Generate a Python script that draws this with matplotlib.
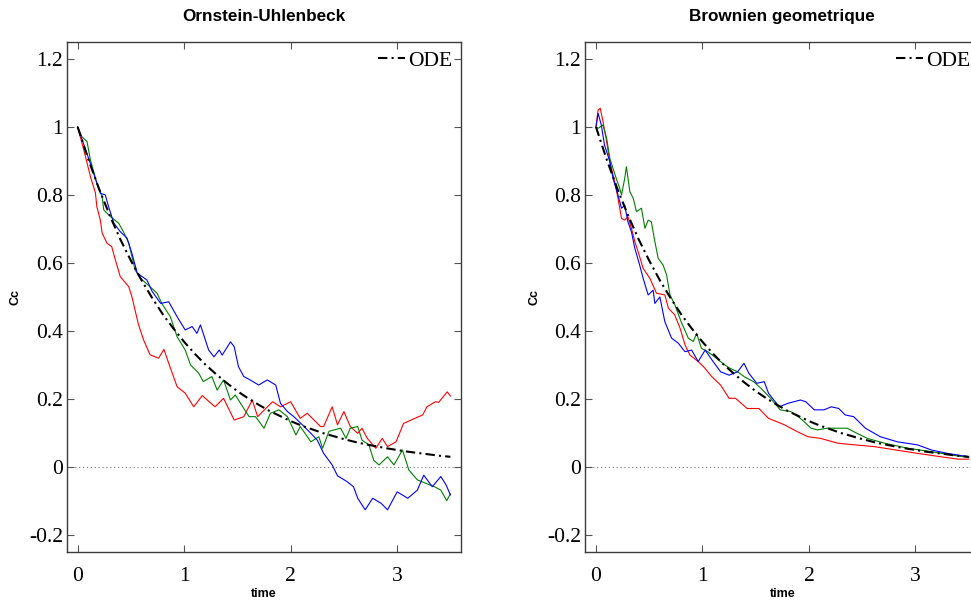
import matplotlib
matplotlib.use('Agg')
import matplotlib.pyplot as plt

# valeurs (temps, Cc)
# Ornstein-Uhlenbeck
ou_red_t = [0, 0.06, 0.12, 0.167, 0.18, 0.213, 0.23, 0.276, 0.32, 0.354, 0.40, 0.48, 0.51, 0.54, 0.57,
            0.62, 0.68, 0.76, 0.81, 0.855, 0.934, 1.01, 1.09, 1.17, 1.29, 1.37, 1.47, 1.56, 1.64, 1.69,
            1.83, 1.905, 2.0, 2.09, 2.156, 2.28, 2.31, 2.39, 2.44, 2.50, 2.56, 2.63, 2.67, 2.72, 2.80,
            2.86, 2.91, 2.99, 3.06, 3.13, 3.24, 3.28, 3.36, 3.39, 3.47, 3.5]
ou_red = [1, 0.93, 0.854, 0.806, 0.766, 0.726, 0.688, 0.658, 0.648, 0.609, 0.56, 0.53, 0.50, 0.46, 0.42,
          0.373, 0.33, 0.32, 0.346, 0.305, 0.236, 0.217, 0.177, 0.21, 0.177, 0.202, 0.138, 0.148, 0.197, 0.148,
          0.192, 0.177, 0.192, 0.143, 0.158, 0.119, 0.119, 0.177, 0.124, 0.163, 0.119, 0.099, 0.114, 0.084, 0.055,
          0.084, 0.06, 0.074, 0.128, 0.138, 0.153, 0.177, 0.192, 0.19, 0.221, 0.209]

ou_blue_t = [0, 0.073, 0.15, 0.213, 0.26, 0.29, 0.34, 0.40, 0.464, 0.51, 0.56, 0.65, 0.70, 0.78, 0.855,
             0.934, 1.01, 1.075, 1.12, 1.153, 1.23, 1.28, 1.33, 1.357, 1.435, 1.47, 1.51, 1.56, 1.62, 1.70,
             1.78, 1.86, 1.905, 1.97, 2.03, 2.11, 2.19, 2.25, 2.31, 2.39, 2.44, 2.53, 2.59, 2.63, 2.70,
             2.77, 2.85, 2.91, 3.0, 3.10, 3.19, 3.25, 3.33, 3.41, 3.46, 3.5]
ou_blue = [1, 0.935, 0.864, 0.805, 0.80, 0.766, 0.717, 0.692, 0.673, 0.628, 0.57, 0.55, 0.516, 0.481, 0.486,
           0.442, 0.403, 0.413, 0.393, 0.418, 0.344, 0.324, 0.344, 0.329, 0.368, 0.354, 0.295, 0.266, 0.256, 0.241,
           0.256, 0.241, 0.187, 0.163, 0.148, 0.124, 0.099, 0.079, 0.04, 0.006, -0.026, -0.043, -0.058, -0.092, -0.126,
           -0.092, -0.107, -0.126, -0.073, -0.092, -0.068, -0.024, -0.058, -0.028, -0.053, -0.082]

ou_green_t = [0, 0.04, 0.088, 0.12, 0.18, 0.23, 0.245, 0.31, 0.385, 0.43, 0.48, 0.54, 0.59, 0.68, 0.746,
              0.79, 0.87, 0.934, 1.01, 1.06, 1.137, 1.18, 1.26, 1.31, 1.37, 1.435, 1.48, 1.53, 1.61, 1.67,
              1.75, 1.81, 1.89, 1.97, 2.05, 2.09, 2.19, 2.265, 2.30, 2.36, 2.47, 2.52, 2.56, 2.63, 2.67,
              2.735, 2.78, 2.83, 2.91, 2.97, 3.05, 3.11, 3.19, 3.27, 3.35, 3.41, 3.465, 3.5]
ou_green = [1, 0.971, 0.957, 0.903, 0.834, 0.795, 0.756, 0.736, 0.717, 0.692, 0.658, 0.579, 0.555, 0.53, 0.511,
            0.481, 0.442, 0.383, 0.344, 0.30, 0.276, 0.251, 0.266, 0.226, 0.256, 0.197, 0.212, 0.187, 0.148, 0.148,
            0.114, 0.158, 0.168, 0.148, 0.094, 0.119, 0.074, 0.089, 0.055, 0.105, 0.114, 0.084, 0.114, 0.119, 0.079,
            0.065, 0.02, 0.006, 0.03, 0.006, 0.05, -0.009, -0.038, -0.048, -0.058, -0.068, -0.099, -0.079]

# Brownien geometrique
bg_red_t = [0, 0.02, 0.04, 0.066, 0.10, 0.13, 0.176, 0.207, 0.24, 0.27, 0.30, 0.333, 0.365, 0.396, 0.443,
            0.506, 0.568, 0.647, 0.68, 0.74, 0.79, 0.836, 0.883, 0.96, 1.01, 1.087, 1.17, 1.25, 1.31, 1.42,
            1.53, 1.62, 1.77, 1.89, 1.99, 2.11, 2.27, 2.43, 2.61, 3.02, 3.24, 3.40, 3.5]
bg_red = [1, 1.05, 1.055, 1.016, 0.957, 0.898, 0.839, 0.79, 0.731, 0.726, 0.736, 0.702, 0.663, 0.633, 0.584,
          0.555, 0.511, 0.506, 0.467, 0.447, 0.408, 0.359, 0.329, 0.31, 0.295, 0.266, 0.241, 0.202, 0.202, 0.172,
          0.172, 0.143, 0.124, 0.104, 0.089, 0.084, 0.07, 0.065, 0.06, 0.04, 0.03, 0.023, 0.023]

bg_blue_t = [0, 0.02, 0.05, 0.08, 0.13, 0.16, 0.207, 0.24, 0.27, 0.30, 0.333, 0.365, 0.41, 0.443, 0.49,
             0.537, 0.553, 0.60, 0.647, 0.71, 0.773, 0.836, 0.898, 0.96, 1.025, 1.10, 1.17, 1.25, 1.33, 1.39,
             1.435, 1.51, 1.58, 1.62, 1.72, 1.80, 1.92, 1.97, 2.05, 2.14, 2.21, 2.28, 2.34, 2.42, 2.53,
             2.67, 2.83, 3.02, 3.15, 3.30, 3.5]
bg_blue = [1, 1.04, 1.006, 0.947, 0.898, 0.849, 0.80, 0.761, 0.77, 0.721, 0.692, 0.643, 0.594, 0.555, 0.506,
           0.52, 0.481, 0.50, 0.427, 0.379, 0.364, 0.339, 0.344, 0.31, 0.344, 0.31, 0.28, 0.27, 0.28, 0.305,
           0.276, 0.246, 0.251, 0.217, 0.177, 0.187, 0.197, 0.192, 0.168, 0.168, 0.177, 0.172, 0.153, 0.148, 0.114,
           0.089, 0.074, 0.065, 0.05, 0.04, 0.03]

bg_green_t = [0, 0.02, 0.066, 0.10, 0.13, 0.16, 0.19, 0.223, 0.24, 0.27, 0.286, 0.318, 0.35, 0.38, 0.427,
              0.46, 0.49, 0.52, 0.553, 0.584, 0.63, 0.663, 0.695, 0.742, 0.80, 0.867, 0.914, 0.945, 0.99, 1.05,
              1.13, 1.21, 1.26, 1.33, 1.39, 1.48, 1.55, 1.64, 1.73, 1.83, 1.92, 2.02, 2.08, 2.17, 2.28,
              2.36, 2.45, 2.55, 2.71, 2.93, 3.15, 3.34, 3.5]
bg_green = [1, 0.996, 1.006, 0.967, 0.908, 0.878, 0.849, 0.82, 0.80, 0.849, 0.883, 0.81, 0.79, 0.751, 0.761,
            0.702, 0.726, 0.721, 0.663, 0.614, 0.594, 0.565, 0.506, 0.476, 0.427, 0.379, 0.369, 0.393, 0.349, 0.339,
            0.32, 0.30, 0.29, 0.28, 0.266, 0.251, 0.231, 0.202, 0.168, 0.163, 0.143, 0.114, 0.109, 0.114, 0.114,
            0.114, 0.099, 0.084, 0.07, 0.055, 0.045, 0.035, 0.028]

# solution de l'EDO (meme courbe sur les deux graphes)
ode_t = [0, 0.1, 0.2, 0.3, 0.4, 0.5, 0.6, 0.7, 0.8, 0.9, 1.0, 1.1, 1.2, 1.3, 1.4, 1.5, 1.6, 1.7,
         1.8, 1.9, 2.0, 2.1, 2.2, 2.3, 2.4, 2.5, 2.6, 2.7, 2.8, 2.9, 3.0, 3.1, 3.2, 3.3, 3.4, 3.5]
ode = [1.0, 0.905, 0.819, 0.741, 0.670, 0.607, 0.549, 0.497, 0.449, 0.407, 0.368, 0.333, 0.301, 0.273,
       0.247, 0.223, 0.202, 0.183, 0.165, 0.150, 0.135, 0.122, 0.111, 0.100, 0.091, 0.082, 0.074, 0.067,
       0.061, 0.055, 0.050, 0.045, 0.041, 0.037, 0.033, 0.030]

titles = ['Ornstein-Uhlenbeck', 'Brownien geometrique']
x_ticks = [0, 1, 2, 3]
x_labels = ['0', '1', '2', '3']
y_ticks = [-0.2, 0, 0.2, 0.4, 0.6, 0.8, 1, 1.2]
y_labels = ['-0.2', '0', '0.2', '0.4', '0.6', '0.8', '1', '1.2']

plt.rcParams['axes.unicode_minus'] = False

serif = 'Liberation Serif'
sans = 'Liberation Sans'

fig = plt.figure(figsize=(9.71, 6.03), dpi=100)
# le second graphe deborde a droite, comme sur l'original
ax1 = fig.add_axes([0.069, 0.0846, 0.4058, 0.8458])
ax2 = fig.add_axes([0.6028, 0.0846, 0.4058, 0.8458])

panels = [
    (ax1, titles[0], [(ou_red_t, ou_red, '#ff0000'), (ou_green_t, ou_green, '#008000'), (ou_blue_t, ou_blue, '#0000ff')]),
    (ax2, titles[1], [(bg_red_t, bg_red, '#ff0000'), (bg_green_t, bg_green, '#008000'), (bg_blue_t, bg_blue, '#0000ff')]),
]

for ax, title, series in panels:
    ax.axhline(0, color='#777777', lw=0.8, ls=(0, (1, 2.5)), zorder=1)
    for t, v, c in series:
        ax.plot(t, v, color=c, lw=0.8, zorder=2)
    ax.plot(ode_t, ode, color='black', lw=1.5, dashes=(4.5, 2, 1, 2), label='ODE', zorder=3)

    ax.set_xlim(-0.1, 3.6)
    ax.set_ylim(-0.25, 1.25)
    ax.set_xticks(x_ticks)
    ax.set_xticklabels(x_labels, family=serif, fontsize=15.5)
    ax.set_yticks(y_ticks)
    ax.set_yticklabels(y_labels, family=serif, fontsize=15.5)
    ax.tick_params(direction='in', top=True, right=True, length=5, width=0.8, color='#555555')
    ax.tick_params(axis='x', pad=11)
    ax.tick_params(axis='y', pad=3)
    for s in ax.spines.values():
        s.set_color('#3c3c3c')
        s.set_linewidth(1.0)

    ax.set_title(title, family=sans, fontweight='bold', fontsize=12.3, pad=15)
    ax.set_xlabel('time', family=sans, fontweight='bold', fontsize=9, labelpad=1)
    ax.set_ylabel('Cc', family=sans, fontweight='bold', fontsize=9, labelpad=5)
    ax.legend(loc='upper right', frameon=False, prop={'family': serif, 'size': 15.5},
              handlelength=1.26, handletextpad=0.15, borderaxespad=0, borderpad=0.4)

plt.savefig('out.png', dpi=100)
